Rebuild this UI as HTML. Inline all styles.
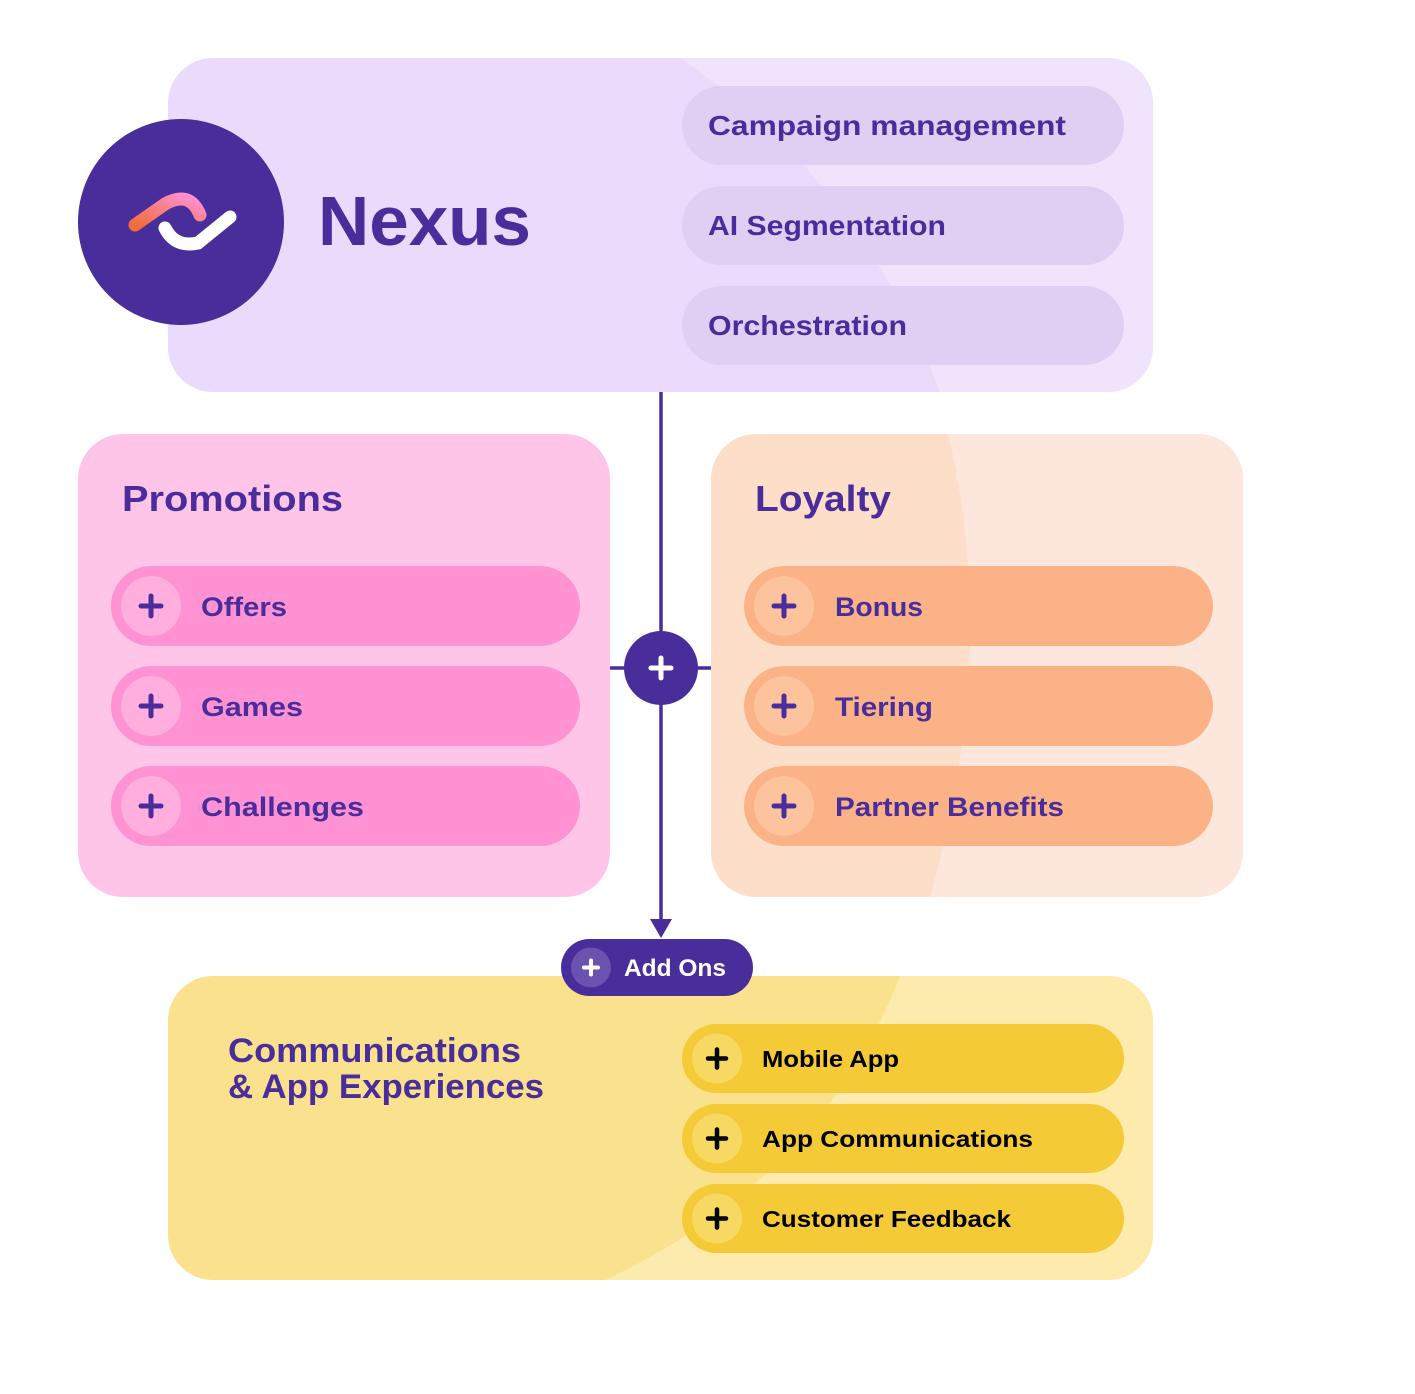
<!DOCTYPE html>
<html><head><meta charset="utf-8"><style>html,body{margin:0;padding:0;background:#fff}svg{display:block}text{font-family:"Liberation Sans",sans-serif;font-weight:bold}</style></head><body>
<svg width="1415" height="1394" viewBox="0 0 1415 1394" xmlns="http://www.w3.org/2000/svg">
<defs>
<clipPath id="c1"><rect x="168" y="58" width="985" height="334" rx="45"/></clipPath>
<clipPath id="c2"><rect x="711" y="434" width="532" height="463" rx="45"/></clipPath>
<clipPath id="c3"><rect x="168" y="976" width="985" height="304" rx="45"/></clipPath>
<linearGradient id="lg" x1="0" y1="1" x2="1" y2="0"><stop offset="0" stop-color="#F26B3A"/><stop offset="1" stop-color="#FF92D2"/></linearGradient>
<g id="plus"><path d="M-10 0H10M0 -10V10" stroke-width="5" stroke-linecap="round"/></g>
</defs>
<g clip-path="url(#c1)">
<rect x="168" y="58" width="985" height="334" fill="#EADAFC"/>
<path d="M680 58 Q860 180 940 392 L1153 392 L1153 58 Z" fill="#EFE4FC"/>
</g>
<circle cx="181" cy="222" r="103" fill="#482D9B"/>
<path d="M135 225 L165 204 Q190 190 200 215" stroke="url(#lg)" stroke-width="13" fill="none" stroke-linecap="round"/>
<path d="M165 228 Q175 248 198 243 L230 217" stroke="#fff" stroke-width="13" fill="none" stroke-linecap="round"/>
<text x="318" y="245" font-size="70" fill="#482D9B" textLength="213" lengthAdjust="spacingAndGlyphs">Nexus</text>
<g fill="#DFD0F3">
<rect x="682" y="86" width="442" height="79" rx="39.5"/>
<rect x="682" y="186" width="442" height="79" rx="39.5"/>
<rect x="682" y="286" width="442" height="79" rx="39.5"/>
</g>
<g fill="#482D9B" font-size="28">
<text x="708" y="135" textLength="358" lengthAdjust="spacingAndGlyphs">Campaign management</text>
<text x="708" y="235" textLength="238" lengthAdjust="spacingAndGlyphs">AI Segmentation</text>
<text x="708" y="335" textLength="199" lengthAdjust="spacingAndGlyphs">Orchestration</text>
</g>
<line x1="661" y1="392" x2="661" y2="925" stroke="#482D9B" stroke-width="3.5"/>
<line x1="610" y1="668" x2="711" y2="668" stroke="#482D9B" stroke-width="3.5"/>
<path d="M650 919 L672 919 L661 938 Z" fill="#482D9B"/>
<rect x="78" y="434" width="532" height="463" rx="45" fill="#FEC5E8"/>
<text x="122" y="511" font-size="36" fill="#482D9B" textLength="221" lengthAdjust="spacingAndGlyphs">Promotions</text>
<rect x="111" y="566" width="469" height="80" rx="40" fill="#FF92D2"/>
<rect x="111" y="666" width="469" height="80" rx="40" fill="#FF92D2"/>
<rect x="111" y="766" width="469" height="80" rx="40" fill="#FF92D2"/>
<g fill="#FFAEDD"><circle cx="151" cy="606" r="30"/><circle cx="151" cy="706" r="30"/><circle cx="151" cy="806" r="30"/></g>
<g stroke="#482D9B"><use href="#plus" x="151" y="606"/><use href="#plus" x="151" y="706"/><use href="#plus" x="151" y="806"/></g>
<g fill="#482D9B" font-size="27">
<text x="201" y="616" textLength="86" lengthAdjust="spacingAndGlyphs">Offers</text>
<text x="201" y="716" textLength="102" lengthAdjust="spacingAndGlyphs">Games</text>
<text x="201" y="816" textLength="163" lengthAdjust="spacingAndGlyphs">Challenges</text>
</g>
<g clip-path="url(#c2)">
<rect x="711" y="434" width="532" height="463" fill="#FCDEC9"/>
<path d="M948 434 Q1000 650 930 897 L1243 897 L1243 434 Z" fill="#FDE7DC"/>
</g>
<text x="755" y="511" font-size="36" fill="#482D9B" textLength="136" lengthAdjust="spacingAndGlyphs">Loyalty</text>
<rect x="744" y="566" width="469" height="80" rx="40" fill="#FBB286"/>
<rect x="744" y="666" width="469" height="80" rx="40" fill="#FBB286"/>
<rect x="744" y="766" width="469" height="80" rx="40" fill="#FBB286"/>
<g fill="#FCC39D"><circle cx="784" cy="606" r="30"/><circle cx="784" cy="706" r="30"/><circle cx="784" cy="806" r="30"/></g>
<g stroke="#482D9B"><use href="#plus" x="784" y="606"/><use href="#plus" x="784" y="706"/><use href="#plus" x="784" y="806"/></g>
<g fill="#482D9B" font-size="27">
<text x="835" y="616" textLength="88" lengthAdjust="spacingAndGlyphs">Bonus</text>
<text x="835" y="716" textLength="98" lengthAdjust="spacingAndGlyphs">Tiering</text>
<text x="835" y="816" textLength="229" lengthAdjust="spacingAndGlyphs">Partner Benefits</text>
</g>
<circle cx="661" cy="668" r="37" fill="#482D9B"/>
<use href="#plus" x="661" y="668" stroke="#fff"/>
<g clip-path="url(#c3)">
<rect x="168" y="976" width="985" height="304" fill="#F9E18E"/>
<path d="M900 976 Q820 1180 605 1280 L1153 1280 L1153 976 Z" fill="#FDEBAE"/>
</g>
<g fill="#482D9B" font-size="34">
<text x="228" y="1062" textLength="293" lengthAdjust="spacingAndGlyphs">Communications</text>
<text x="228" y="1098" textLength="316" lengthAdjust="spacingAndGlyphs">&amp; App Experiences</text>
</g>
<rect x="682" y="1024" width="442" height="69" rx="34.5" fill="#F4CB37"/>
<rect x="682" y="1104" width="442" height="69" rx="34.5" fill="#F4CB37"/>
<rect x="682" y="1184" width="442" height="69" rx="34.5" fill="#F4CB37"/>
<g fill="#F7D862"><circle cx="717" cy="1058.5" r="25"/><circle cx="717" cy="1138.5" r="25"/><circle cx="717" cy="1218.5" r="25"/></g>
<g stroke="#000"><path d="M708 1058.5H726M717 1049.5V1067.5M708 1138.5H726M717 1129.5V1147.5M708 1218.5H726M717 1209.5V1227.5" stroke-width="4.5" stroke-linecap="round"/></g>
<g fill="#000" font-size="23">
<text x="762" y="1067" textLength="137" lengthAdjust="spacingAndGlyphs">Mobile App</text>
<text x="762" y="1147" textLength="271" lengthAdjust="spacingAndGlyphs">App Communications</text>
<text x="762" y="1227" textLength="249" lengthAdjust="spacingAndGlyphs">Customer Feedback</text>
</g>
<rect x="561" y="939" width="192" height="57" rx="28.5" fill="#482D9B"/>
<circle cx="591" cy="967.5" r="20" fill="#6B52AE"/>
<path d="M584 967.5H598M591 960.5V974.5" stroke="#fff" stroke-width="4" stroke-linecap="round"/>
<text x="624" y="976" font-size="24" fill="#fff" textLength="102" lengthAdjust="spacingAndGlyphs">Add Ons</text>
</svg>
</body></html>
